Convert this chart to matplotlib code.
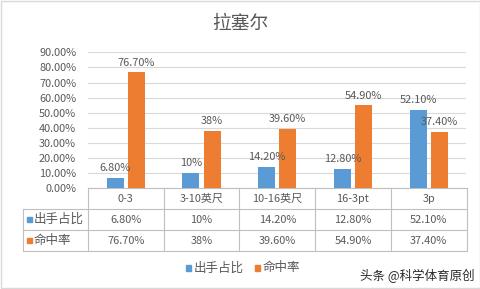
import numpy as np
import matplotlib
matplotlib.use("Agg")
import matplotlib.pyplot as plt
from matplotlib.patches import Rectangle
from matplotlib.lines import Line2D
from matplotlib.transforms import blended_transform_factory
from matplotlib.ticker import FuncFormatter

plt.rcParams['font.family'] = ['Noto Sans CJK SC', 'DejaVu Sans']

# ---- data ----
title = '拉塞尔'
categories = ['0-3', '3-10英尺', '10-16英尺', '16-3pt', '3p']
series_names = ['出手占比', '命中率']
shot_share = [6.8, 10, 14.2, 12.8, 52.1]
fg_pct = [76.7, 38, 39.6, 54.9, 37.4]
y_ticks = [0, 10, 20, 30, 40, 50, 60, 70, 80, 90]
watermark = '头条 @科学体育原创'

BLUE = '#5B9BD5'
ORANGE = '#ED7D31'
TXT = '#595959'
GRID = '#D9D9D9'
TBL = '#BFBFBF'

W, H = 481, 289


def fx(px):
    return px / W


def fy(py):
    return 1 - py / H


def pct(v):
    return f'{int(v)}%' if float(v).is_integer() else f'{v:.2f}%'


fig = plt.figure(figsize=(W / 100, H / 100), dpi=100)
fig.patch.set_facecolor('white')

ax_left, ax_right = 88, 466.5
ax_top, ax_bot = 52.4, 188.3
ax = fig.add_axes([fx(ax_left), fy(ax_bot), fx(ax_right - ax_left), (ax_bot - ax_top) / H])

x = np.arange(len(categories))
bw = 0.225
off = 0.14
ax.bar(x - off, shot_share, width=bw, color=BLUE, zorder=3)
ax.bar(x + off, fg_pct, width=bw, color=ORANGE, zorder=3)

fs = 7.9
for xi, v in zip(x - off, shot_share):
    ax.annotate(pct(v), (xi, v), xytext=(0, 3.5), textcoords='offset points',
                ha='center', va='bottom', fontsize=fs, color=TXT)
for xi, v in zip(x + off, fg_pct):
    ax.annotate(pct(v), (xi, v), xytext=(0, 3.5), textcoords='offset points',
                ha='center', va='bottom', fontsize=fs, color=TXT)

ax.set_xlim(-0.5, len(categories) - 0.5)
ax.set_ylim(0, 90)
ax.set_yticks(y_ticks)
ax.yaxis.set_major_formatter(FuncFormatter(lambda v, p: f'{v:.2f}%'))
ax.tick_params(axis='y', length=0, labelsize=fs, labelcolor=TXT, pad=8.5)
ax.set_xticks([])
ax.yaxis.grid(True, color=GRID, lw=0.8, zorder=0)
for s in ['left', 'right', 'top']:
    ax.spines[s].set_visible(False)
ax.spines['bottom'].set_color(TBL)
ax.spines['bottom'].set_linewidth(0.8)

# ---- data table under the axis ----
tr = blended_transform_factory(ax.transData, fig.transFigure)
row_lines = [209.3, 230.0, 251.0]
tbl_left = 23.3
for ry in row_lines:
    fig.add_artist(Line2D([fx(tbl_left), fx(ax_right)], [fy(ry), fy(ry)],
                          color=TBL, lw=0.8))
fig.add_artist(Line2D([fx(tbl_left), fx(tbl_left)], [fy(row_lines[0]), fy(row_lines[-1])],
                      color=TBL, lw=0.8))
for b in np.arange(len(categories) + 1) - 0.5:
    fig.add_artist(Line2D([b, b], [fy(ax_bot), fy(row_lines[-1])],
                          color=TBL, lw=0.8, transform=tr))

hdr_y = (ax_bot + row_lines[0]) / 2
r1_y = (row_lines[0] + row_lines[1]) / 2
r2_y = (row_lines[1] + row_lines[2]) / 2
for xi, c, a, b in zip(x, categories, shot_share, fg_pct):
    fig.text(xi, fy(hdr_y), c, transform=tr, ha='center', va='center', fontsize=fs, color=TXT)
    fig.text(xi, fy(r1_y), pct(a), transform=tr, ha='center', va='center', fontsize=fs, color=TXT)
    fig.text(xi, fy(r2_y), pct(b), transform=tr, ha='center', va='center', fontsize=fs, color=TXT)

for ry, name, col in [(r1_y, series_names[0], BLUE), (r2_y, series_names[1], ORANGE)]:
    fig.add_artist(Rectangle((fx(26.7), fy(ry + 2.6)), 5.2 / W, 5.2 / H,
                             color=col, transform=fig.transFigure))
    fig.text(fx(33.5), fy(ry), name, ha='left', va='center', fontsize=9, color=TXT)

# ---- legend ----
leg_y = 268
for lx, name, col in [(185.7, series_names[0], BLUE), (255.0, series_names[1], ORANGE)]:
    fig.add_artist(Rectangle((fx(lx), fy(leg_y + 2.6)), 5.2 / W, 5.2 / H,
                             color=col, transform=fig.transFigure))
    fig.text(fx(lx + 8), fy(leg_y), name, ha='left', va='center', fontsize=9, color=TXT)

# ---- title ----
fig.text(0.5, fy(23), title, ha='center', va='center', fontsize=13.5, color=TXT)

# ---- watermark ----
fig.text(fx(360.5), fy(276), watermark, ha='left', va='center', fontsize=9,
         color='#2a2a2a', fontweight='medium')

# ---- outer border ----
fig.add_artist(Rectangle((0.5 / W, 1.5 / H), (W - 1.5) / W, (H - 2.5) / H,
                         fill=False, edgecolor=GRID, lw=1, transform=fig.transFigure))

fig.savefig('out.png', dpi=100)
